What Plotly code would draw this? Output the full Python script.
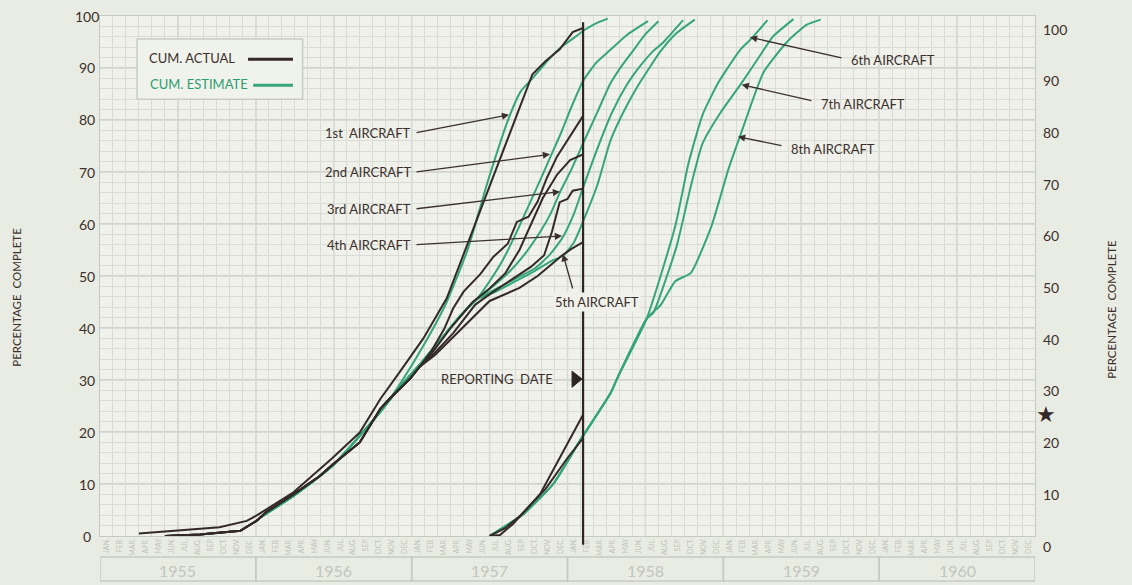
import plotly.graph_objects as go

# ---------------- data ----------------
MONTH_LABELS = ["JAN.", "FEB.", "MAR.", "APR.", "MAY", "JUN.", "JUL.", "AUG.", "SEP.", "OCT.", "NOV.", "DEC."]
YEARS = ["1955", "1956", "1957", "1958", "1959", "1960"]
Y_TICKS = [0, 10, 20, 30, 40, 50, 60, 70, 80, 90, 100]
REPORTING_MONTH = 37.2          # months counted from 1 Jan 1955

# x = months since Jan 1955, y = percentage complete
ACT1_M = [3.0, 5.2, 7.7, 9.2, 11.3, 12.1, 14.9, 16.9, 17.9, 20.0, 21.6, 23.1, 24.9, 26.7, 30.2, 32.6, 33.3, 34.3, 35.4, 36.4, 37.2]
ACT1_P = [0.5, 0.9, 1.3, 1.7, 2.9, 4.0, 8.4, 12.7, 15.0, 19.9, 26.4, 31.6, 38.0, 45.7, 68.7, 84.6, 88.8, 91.3, 93.6, 96.9, 97.7]

ACT_SHARED_M = [5.0, 7.7, 10.8, 12.1, 12.8, 14.9, 16.9, 17.9, 20.0, 21.6, 22.3, 23.9, 24.6]
ACT_SHARED_P = [0.0, 0.3, 1.0, 3.0, 4.6, 8.0, 11.5, 13.7, 18.0, 24.5, 26.4, 30.3, 32.5]

ACT2_M = [25.5, 26.5, 27.2, 28.0, 29.3, 30.3, 31.4, 32.1, 33.0, 33.7, 34.4, 35.2, 37.2]
ACT2_P = [35.5, 39.8, 43.8, 47.0, 50.4, 53.7, 56.2, 60.4, 61.4, 64.3, 68.8, 73.0, 80.8]
ACT3_M = [25.6, 27.0, 28.7, 30.0, 31.2, 32.3, 33.2, 34.1, 35.2, 36.2, 37.2]
ACT3_P = [35.3, 40.0, 45.0, 47.6, 50.5, 55.0, 60.0, 65.0, 69.5, 72.3, 73.4]
ACT4_M = [25.7, 27.2, 28.9, 30.3, 31.8, 33.2, 34.2, 34.8, 35.4, 36.0, 36.4, 37.2]
ACT4_P = [35.0, 39.0, 44.5, 47.0, 49.5, 51.8, 54.0, 58.5, 64.2, 64.8, 66.4, 66.8]
ACT5_M = [25.8, 27.3, 28.4, 30.0, 32.3, 33.7, 34.8, 35.6, 36.3, 37.2]
ACT5_P = [34.8, 38.5, 41.3, 45.2, 47.7, 50.0, 52.3, 54.0, 55.2, 56.5]

ACT6_M = [30.0, 30.8, 31.8, 33.9, 36.0, 37.2]
ACT6_P = [0.0, 0.2, 2.3, 8.1, 17.8, 23.3]
ACT7_M = [30.0, 31.2, 32.4, 34.3, 36.0, 37.2]
ACT7_P = [0.0, 1.5, 4.0, 9.0, 15.0, 18.8]

EST1_M = [12.3, 14.9, 17.9, 21.6, 23.3, 25.0, 26.7, 28.3, 29.9, 31.5, 32.4, 33.3, 34.5, 35.5, 36.5, 37.3, 38.2, 39.1]
EST1_P = [3.5, 7.7, 13.5, 23.9, 30.0, 37.0, 45.0, 55.0, 68.5, 80.5, 85.5, 88.0, 91.5, 94.0, 95.8, 97.3, 98.6, 99.5]

EST_SHARED_M = [12.3, 14.9, 17.9, 21.6, 23.2, 24.8, 26.3, 27.8, 29.0]
EST_SHARED_P = [3.5, 7.7, 13.5, 23.9, 29.0, 33.5, 38.0, 42.5, 45.5]

EST2_M = [30.0, 31.0, 32.0, 33.0, 34.0, 34.7, 35.5, 36.3, 37.2, 38.2, 39.3, 40.6, 42.2]
EST2_P = [49.0, 53.0, 58.0, 63.5, 69.0, 73.0, 77.5, 82.5, 87.5, 91.0, 93.5, 96.4, 99.0]
EST3_M = [30.5, 31.6, 32.8, 33.9, 34.7, 35.4, 36.3, 37.2, 38.3, 39.3, 40.2, 41.1, 42.0, 43.0]
EST3_P = [48.5, 51.0, 54.5, 58.5, 62.0, 66.0, 70.5, 75.5, 81.5, 87.0, 90.5, 93.5, 96.5, 99.0]
EST4_M = [30.5, 32.0, 33.5, 34.6, 35.6, 36.5, 37.2, 38.3, 39.4, 40.5, 41.6, 42.5, 43.4, 44.9]
EST4_P = [47.5, 49.5, 51.5, 54.0, 57.3, 62.0, 67.0, 74.5, 81.3, 86.5, 90.4, 93.0, 95.0, 99.2]
EST5_M = [30.5, 32.0, 33.5, 34.7, 35.7, 36.5, 37.2, 38.3, 39.3, 40.3, 41.4, 42.3, 43.1, 44.3, 45.8]
EST5_P = [47.0, 49.0, 51.0, 52.8, 54.0, 56.5, 60.5, 67.5, 76.0, 81.5, 86.5, 90.0, 93.0, 96.5, 99.3]

EST_LATE_M = [30.0, 31.4, 32.6, 34.9, 37.0, 39.3, 39.9, 42.1]
EST_LATE_P = [0.0, 2.2, 4.2, 10.0, 18.5, 27.4, 30.7, 41.8]

EST6_M = [44.3, 45.3, 46.4, 47.5, 48.2, 49.3, 50.1, 51.4]
EST6_P = [59.6, 71.5, 81.0, 86.7, 89.5, 93.5, 95.5, 99.2]
EST7_M = [42.6, 44.4, 45.5, 46.4, 47.8, 49.4, 50.8, 51.8, 53.4]
EST7_P = [42.9, 55.7, 67.3, 75.5, 81.5, 87.1, 92.3, 96.0, 99.4]
EST8_M = [43.2, 44.3, 45.5, 47.1, 48.4, 49.3, 51.1, 52.9, 54.4, 55.5]
EST8_P = [44.5, 49.0, 50.6, 59.7, 70.6, 77.0, 89.2, 95.0, 98.3, 99.3]

# ---------------- styling ----------------
ACT_COLOR = "#34292a"
EST_COLOR = "#36a677"
TEXT_COLOR = "#3b302d"
FAINT = "#bfc3bb"
PLOT_BG = "#eff1ea"
FONT = "Lato, 'Open Sans', sans-serif"

fig = go.Figure()

def add_line(m, p, color, smooth=False):
    fig.add_trace(go.Scatter(
        x=m, y=p, mode="lines",
        line=dict(color=color, width=2, shape="spline" if smooth else "linear", smoothing=0.5),
        hoverinfo="skip", showlegend=False))

# estimates (green) first
add_line(EST1_M, EST1_P, EST_COLOR, True)
for em, ep in [(EST2_M, EST2_P), (EST3_M, EST3_P), (EST4_M, EST4_P), (EST5_M, EST5_P)]:
    add_line(EST_SHARED_M + em, EST_SHARED_P + ep, EST_COLOR, True)
add_line(EST_LATE_M + EST6_M, EST_LATE_P + EST6_P, EST_COLOR, True)
add_line(EST_LATE_M + EST7_M, EST_LATE_P + EST7_P, EST_COLOR, True)
add_line(EST_LATE_M + EST8_M, EST_LATE_P + EST8_P, EST_COLOR, True)

# actuals (dark)
add_line(ACT1_M, ACT1_P, ACT_COLOR)
for am, ap in [(ACT2_M, ACT2_P), (ACT3_M, ACT3_P), (ACT4_M, ACT4_P), (ACT5_M, ACT5_P)]:
    add_line(ACT_SHARED_M + am, ACT_SHARED_P + ap, ACT_COLOR)
add_line(ACT6_M, ACT6_P, ACT_COLOR)
add_line(ACT7_M, ACT7_P, ACT_COLOR)

# dummy trace so the month-label axis is drawn
fig.add_trace(go.Scatter(x=[0, 72], y=[-50, -50], xaxis="x2", mode="markers",
                         marker=dict(opacity=0), hoverinfo="skip", showlegend=False))

n_months = 12 * len(YEARS)
month_centers = [i + 0.5 for i in range(n_months)]
month_text = [MONTH_LABELS[i % 12] for i in range(n_months)]

shapes = []
# heavier grid lines every 6 months and every 10 %
for k in range(6, n_months, 6):
    shapes.append(dict(type="line", xref="x", yref="y", x0=k, x1=k, y0=0, y1=100,
                       line=dict(color="#c4c8c0", width=1.3), layer="below"))
for v in Y_TICKS[1:-1]:
    shapes.append(dict(type="line", xref="x", yref="y", x0=0, x1=n_months, y0=v, y1=v,
                       line=dict(color="#c4c8c0", width=1.3), layer="below"))
# year boxes
for i, yr in enumerate(YEARS):
    shapes.append(dict(type="rect", xref="x", yref="paper", x0=12 * i, x1=12 * (i + 1),
                       y0=-0.0865, y1=-0.0404, line=dict(color="#c6cac2", width=1.5)))
# reporting date line
shapes.append(dict(type="line", xref="x", yref="paper", x0=REPORTING_MONTH, x1=REPORTING_MONTH,
                   y0=-0.017, y1=0.988, line=dict(color="#2e2523", width=2.2)))
shapes.append(dict(type="path", xref="x", yref="y",
                   path="M 36.35 31.7 L 37.12 30.2 L 36.35 28.6 Z",
                   fillcolor="#2e2523", line=dict(color="#2e2523", width=1)))
# legend box
shapes.append(dict(type="rect", xref="x", yref="y", x0=2.85, x1=15.6, y0=84.0, y1=95.6,
                   fillcolor="#f0f2ec", line=dict(color="#c9ccc5", width=1.5)))
shapes.append(dict(type="line", xref="x", yref="y", x0=11.4, x1=14.86, y0=91.7, y1=91.7,
                   line=dict(color=ACT_COLOR, width=3)))
shapes.append(dict(type="line", xref="x", yref="y", x0=11.8, x1=14.86, y0=86.7, y1=86.7,
                   line=dict(color=EST_COLOR, width=3)))

ann = []
lab_font = dict(family=FONT, size=13, color=TEXT_COLOR)
ann.append(dict(text="CUM. ACTUAL", xref="x", yref="y", x=3.62, y=91.9, xanchor="left",
                showarrow=False, font=lab_font))
ann.append(dict(text="CUM. ESTIMATE", xref="x", yref="y", x=3.7, y=86.9, xanchor="left",
                showarrow=False, font=dict(family=FONT, size=13, color="#2f9c6f")))

# left / right tick labels (the right scale sits a few pixels lower on the original sheet)
for v in Y_TICKS:
    ann.append(dict(text=str(v), xref="paper", yref="paper", x=-0.0139, y=v / 100, xanchor="center",
                    yanchor="middle", showarrow=False, font=dict(family=FONT, size=14, color=TEXT_COLOR)))
    right_py = 546 - 5.17 * v
    ann.append(dict(text=str(v), xref="paper", yref="paper", x=1.0064, y=(536 - right_py) / 520,
                    xanchor="left", yanchor="middle", showarrow=False,
                    font=dict(family=FONT, size=14, color=TEXT_COLOR)))
# axis titles
ann.append(dict(text="PERCENTAGE  COMPLETE", xref="paper", yref="paper", x=-0.0888, y=0.46,
                xanchor="center", yanchor="middle", textangle=-90, showarrow=False,
                font=dict(family=FONT, size=11.5, color=TEXT_COLOR)))
ann.append(dict(text="PERCENTAGE  COMPLETE", xref="paper", yref="paper", x=1.0824, y=0.435,
                xanchor="center", yanchor="middle", textangle=-90, showarrow=False,
                font=dict(family=FONT, size=11.5, color=TEXT_COLOR)))
ann.append(dict(text="★", xref="paper", yref="paper", x=1.0118, y=(536 - 415) / 520,
                xanchor="center", yanchor="middle", showarrow=False,
                font=dict(family="DejaVu Sans", size=22, color=ACT_COLOR)))
# year labels
for i, yr in enumerate(YEARS):
    ann.append(dict(text=yr, xref="x", yref="paper", x=12 * i + 6, y=-0.0654,
                    xanchor="center", yanchor="middle", showarrow=False,
                    font=dict(family=FONT, size=16, color="#c2c6be")))

# aircraft labels: (text, text x, text y, anchor, tail x, tail y, tip x, tip y)
LABELS = [
    ("1st  AIRCRAFT", 24.1, 77.5, "right", 24.26, 77.5, 31.5, 81.0),
    ("2nd AIRCRAFT", 24.1, 70.0, "right", 24.26, 70.0, 34.65, 73.4),
    ("3rd AIRCRAFT", 24.1, 62.9, "right", 24.26, 62.9, 35.42, 66.2),
    ("4th AIRCRAFT", 24.1, 56.0, "right", 24.26, 56.0, 35.58, 57.7),
    ("5th AIRCRAFT", 38.27, 45.0, "center", 36.43, 47.3, 35.65, 54.2),
    ("6th AIRCRAFT", 57.68, 91.5, "left", 57.22, 91.9, 50.05, 95.9),
    ("7th AIRCRAFT", 55.37, 83.1, "left", 54.9, 83.65, 49.41, 86.8),
    ("8th AIRCRAFT", 53.06, 74.4, "left", 52.6, 75.0, 49.13, 76.8),
]
for txt, tx, ty, anc, ax_, ay_, hx, hy in LABELS:
    ann.append(dict(text=txt, xref="x", yref="y", x=tx, y=ty, xanchor=anc, yanchor="middle",
                    showarrow=False, font=lab_font,
                    bgcolor=PLOT_BG if txt.startswith("5th") else None))
    ann.append(dict(text="", xref="x", yref="y", x=hx, y=hy, axref="x", ayref="y", ax=ax_, ay=ay_,
                    showarrow=True, arrowhead=2, arrowsize=1.1, arrowwidth=1.3,
                    arrowcolor=TEXT_COLOR, standoff=0, startstandoff=0))
ann.append(dict(text="REPORTING  DATE", xref="x", yref="y", x=26.1, y=30.2, xanchor="left",
                yanchor="middle", showarrow=False, font=dict(family=FONT, size=13, color=TEXT_COLOR)))

fig.update_layout(
    width=1132, height=585,
    margin=dict(l=100, r=97, t=16, b=49),
    paper_bgcolor="#e9ece2",
    plot_bgcolor=PLOT_BG,
    showlegend=False,
    shapes=shapes,
    annotations=ann,
    xaxis=dict(range=[0, n_months], tick0=0, dtick=1, showgrid=True, gridcolor="#d9dcd4",
               gridwidth=1, showticklabels=False, zeroline=False, showline=True,
               linecolor="#c6c9c2", mirror=True, ticks="", automargin=False),
    xaxis2=dict(range=[0, n_months], overlaying="x", side="bottom", anchor="y",
                tickmode="array", tickvals=month_centers, ticktext=month_text, tickangle=-90,
                tickfont=dict(family=FONT, size=7, color=FAINT), showgrid=False,
                zeroline=False, ticks="", automargin=False, showline=False),
    yaxis=dict(range=[0, 100], tick0=0, dtick=2, showgrid=True, gridcolor="#d9dcd4",
               gridwidth=1, showticklabels=False, zeroline=False, showline=True,
               linecolor="#c6c9c2", mirror=True, ticks="", automargin=False),
)

fig.write_html("out.html", config={"displayModeBar": False},
               post_script="document.body.style.margin='0';")
